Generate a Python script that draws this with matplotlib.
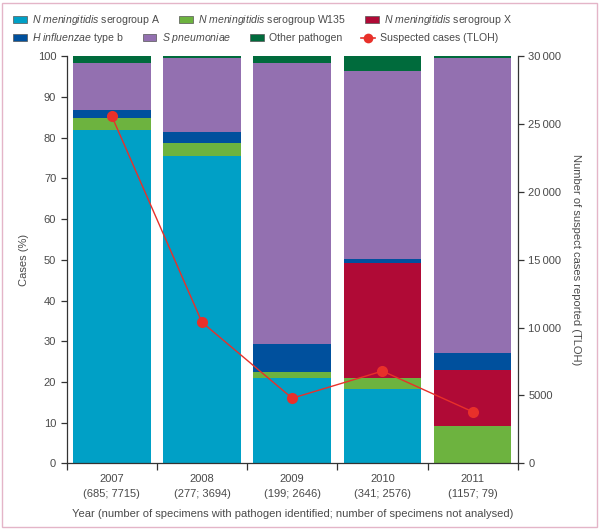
#!/usr/bin/env python3

import matplotlib
matplotlib.use("Agg")
import matplotlib.pyplot as plt
import matplotlib.patches as mpatches
from matplotlib.lines import Line2D

plt.rcParams['font.family'] = ['Liberation Sans', 'DejaVu Sans']
plt.rcParams['mathtext.fontset'] = 'custom'
plt.rcParams['mathtext.it'] = 'Liberation Sans:italic'
plt.rcParams['mathtext.rm'] = 'Liberation Sans'

years = ['2007', '2008', '2009', '2010', '2011']
counts = ['(685; 7715)', '(277; 3694)', '(199; 2646)', '(341; 2576)', '(1157; 79)']

# % of cases per pathogen, stacked bottom to top
men_a = [81.9, 75.5, 21.0, 18.2, 0.0]
men_w135 = [2.9, 3.2, 1.4, 2.8, 9.2]
men_x = [0.0, 0.0, 0.0, 28.1, 13.7]
hib = [1.9, 2.6, 7.0, 1.0, 4.3]
spn = [11.7, 18.2, 69.0, 46.3, 72.4]
other = [1.6, 0.5, 1.6, 3.6, 0.4]

suspected = [25600, 10400, 4800, 6800, 3800]

series = [
    (men_a, '#00A0C6', r'$\it{N\ meningitidis}$ serogroup A'),
    (men_w135, '#6DB33F', r'$\it{N\ meningitidis}$ serogroup W135'),
    (men_x, '#B00A36', r'$\it{N\ meningitidis}$ serogroup X'),
    (hib, '#00509D', r'$\it{H\ influenzae}$ type b'),
    (spn, '#9370B0', r'$\it{S\ pneumoniae}$'),
    (other, '#006B3C', 'Other pathogen'),
]

text_col = '#4a4a4a'
spine_col = '#333333'

fig = plt.figure(figsize=(6.0, 5.3), dpi=100)
ax = fig.add_axes([0.111, 0.1258, 0.752, 0.768])

x = list(range(len(years)))
bottom = [0.0] * len(years)
handles = []
for vals, col, lab in series:
    ax.bar(x, vals, width=0.86, bottom=bottom, color=col, edgecolor='none', linewidth=0)
    bottom = [b + v for b, v in zip(bottom, vals)]
    handles.append(mpatches.Patch(facecolor=col, edgecolor='#555555', linewidth=0.5, label=lab))

ax.set_xlim(-0.5, len(years) - 0.5)
ax.set_ylim(0, 100)
ax.set_yticks(range(0, 101, 10))
ax.set_xticks([i - 0.5 for i in range(len(years) + 1)])
ax.set_xticklabels([])
ax.set_xticks(x, minor=True)
ax.set_xticklabels([y + '\n' + c for y, c in zip(years, counts)], minor=True, linespacing=1.6)
ax.tick_params(axis='x', which='minor', length=0, pad=8, labelsize=8, colors=text_col)
ax.tick_params(axis='x', which='major', length=5, width=0.9, color=spine_col)
ax.tick_params(axis='y', length=4, width=0.9, color=spine_col, labelsize=8, labelcolor=text_col)

for s in ['top', 'right']:
    ax.spines[s].set_visible(False)
for s in ['left', 'bottom']:
    ax.spines[s].set_color(spine_col)
    ax.spines[s].set_linewidth(0.9)

ax.set_ylabel('Cases (%)', fontsize=8, color=text_col, labelpad=6)
ax.set_xlabel('Year (number of specimens with pathogen identified; number of specimens not analysed)',
              fontsize=8, color=text_col, labelpad=7)

ax2 = ax.twinx()
ax2.plot(x, suspected, color='#E8302A', linewidth=1.0, marker='o', markersize=8,
         markeredgewidth=0, zorder=5)
ax2.set_ylim(0, 30000)
rticks = list(range(0, 30001, 5000))
ax2.set_yticks(rticks)
ax2.set_yticklabels([f"{v:,}".replace(',', '\u2009') if v >= 10000 else str(v) for v in rticks])
ax2.tick_params(axis='y', length=4, width=0.9, color=spine_col, labelsize=8, labelcolor=text_col)
for s in ['top', 'left', 'bottom']:
    ax2.spines[s].set_visible(False)
ax2.spines['right'].set_color(spine_col)
ax2.spines['right'].set_linewidth(0.9)
ax2.set_ylabel('Number of suspect cases reported (TLOH)', rotation=270, fontsize=8,
               color=text_col, labelpad=14)

line_handle = Line2D([0], [0], color='#E8302A', linewidth=1.2, marker='o', markersize=7,
                     markeredgewidth=0, label='Suspected cases (TLOH)')

leg_kw = dict(frameon=False, fontsize=7.6, handlelength=1.3, handleheight=0.6,
              handletextpad=0.5, columnspacing=1.8, borderaxespad=0, borderpad=0,
              labelcolor=text_col)
fig.legend(handles=handles[:3], loc='upper left', bbox_to_anchor=(0.022, 0.975), ncol=3, **leg_kw)
fig.legend(handles=handles[3:] + [line_handle], loc='upper left', bbox_to_anchor=(0.022, 0.941),
           ncol=4, **leg_kw)

# pink frame around the whole figure
fig.patches.append(mpatches.Rectangle((0.004, 0.005), 0.991, 0.99, transform=fig.transFigure,
                                      fill=False, edgecolor='#E4B5C8', linewidth=1.0))

fig.savefig('out.png', dpi=100)
